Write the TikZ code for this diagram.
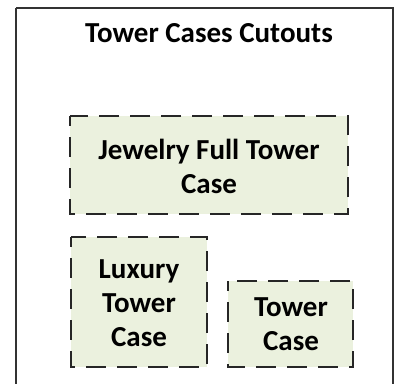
\documentclass[tikz,border=0pt]{standalone}
\usepackage{fontspec}
\setmainfont{Carlito}
\begin{document}
\begin{tikzpicture}[x=1pt,y=-1pt,
  cutbox/.style={draw=black!85, line width=1.8pt, dash pattern=on 20pt off 11pt, dash phase=10pt, fill=boxfill},
  lbl/.style={font=\bfseries\fontsize{29}{34}\selectfont, align=center, text=black}]
\definecolor{boxfill}{HTML}{EBF1DE}
\useasboundingbox (0,0) rectangle (401,383);
\draw[draw=black!80, line width=1.3pt] (16,8) -- (16,395) (16,8) -- (393,8) -- (393,395);
\node[lbl] (title) at (209,33) {Tower Cases Cutouts};
\draw[cutbox] (70,116) rectangle (348,214);
\node[lbl] (jew) at (209,166) {Jewelry Full Tower\\Case};
\draw[cutbox] (71,237) rectangle (207,367);
\node[lbl] (lux) at (139,303) {Luxury\\Tower\\Case};
\draw[cutbox] (228,281) rectangle (353,367);
\node[lbl] (tow) at (291,324) {Tower\\Case};
\end{tikzpicture}
\end{document}
